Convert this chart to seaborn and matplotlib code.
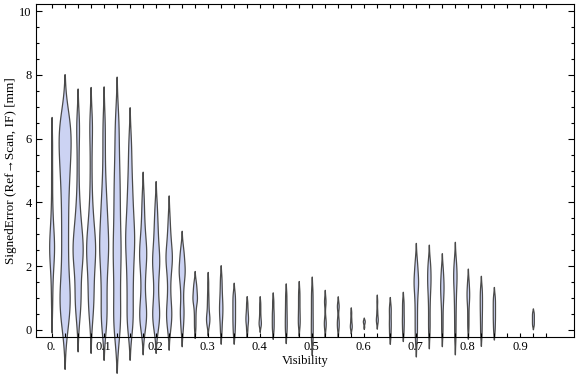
import matplotlib
matplotlib.use("Agg")
import matplotlib.pyplot as plt
import numpy as np
import pandas as pd
import seaborn as sns

# visibility bins (x positions of the violins)
visibility = [0.0, 0.025, 0.05, 0.075, 0.1, 0.125, 0.15, 0.175, 0.2, 0.225,
              0.25, 0.275, 0.3, 0.325, 0.35, 0.375, 0.4, 0.425, 0.45, 0.475,
              0.5, 0.525, 0.55, 0.575, 0.6, 0.625, 0.65, 0.675, 0.7, 0.725,
              0.75, 0.775, 0.8, 0.825, 0.85, 0.925]

errors = [
    [0.8, 1.5, 2.0, 2.2, 2.4, 2.55, 2.7, 2.85, 3.05, 3.35, 3.9, 4.8, 5.8],
    [0.0, 0.25, 0.5, 0.7, 0.9, 1.0, 1.1, 1.3, 1.55, 1.85, 2.2, 2.5, 2.8, 3.1,
     3.4, 3.7, 4.0, 4.3, 4.55, 4.8, 5.0, 5.2, 5.4, 5.6, 5.75, 5.9, 6.05, 6.2,
     6.35, 6.5, 6.65, 6.8],
    [0.3, 0.6, 0.85, 1.0, 1.1, 1.35, 1.65, 1.9, 2.1, 2.2, 2.25, 2.4, 2.5,
     2.6, 2.7, 2.8, 2.95, 3.1, 3.25, 3.45, 3.7, 4.0, 4.5, 5.2, 5.9, 6.4, 6.6],
    [0.3, 0.6, 0.9, 1.0, 1.2, 1.5, 1.75, 1.95, 2.15, 2.3, 2.45, 2.5, 2.6,
     2.75, 2.9, 3.05, 3.25, 3.5, 3.8, 4.3, 5.0, 5.8, 6.4, 6.6],
    [0.1, 0.25, 0.4, 0.7, 1.0, 1.3, 1.6, 1.85, 2.1, 2.3, 2.5, 2.6, 2.7, 2.9,
     3.1, 3.3, 3.5, 3.75, 4.0, 4.3, 4.7, 5.3, 6.0, 6.6],
    [-0.1, 0.1, 0.25, 0.6, 0.95, 1.3, 1.65, 2.0, 2.35, 2.5, 2.7, 3.05, 3.4,
     3.75, 4.1, 4.45, 4.8, 5.2, 5.7, 6.3, 6.7],
    [0.05, 0.2, 0.35, 0.65, 0.95, 1.25, 1.5, 1.75, 2.0, 2.25, 2.5, 2.6, 2.75,
     3.0, 3.1, 3.25, 3.5, 3.75, 4.0, 4.3, 4.6, 5.0, 5.5, 6.0],
    [0.0, 0.2, 0.4, 0.5, 0.6, 0.8, 1.05, 1.4, 1.7, 1.95, 2.15, 2.35, 2.45,
     2.55, 2.75, 3.0, 3.3, 3.7, 4.2],
    [0.0, 0.2, 0.4, 0.5, 0.6, 0.8, 1.05, 1.35, 1.6, 1.85, 2.05, 2.15, 2.25,
     2.45, 2.65, 2.9, 3.2, 3.5, 3.95],
    [0.05, 0.25, 0.45, 0.55, 0.7, 0.95, 1.3, 1.65, 1.9, 2.1, 2.25, 2.3, 2.4,
     2.6, 2.85, 3.1, 3.55],
    [0.0, 0.25, 0.5, 0.6, 0.8, 1.1, 1.35, 1.55, 1.7, 1.8, 1.9, 1.95, 2.1,
     2.3, 2.4, 2.6],
    [0.05, 0.3, 0.55, 0.75, 0.9, 0.95, 1.0, 1.1, 1.2, 1.3, 1.4, 1.55],
    [0.15, 0.25, 0.35, 0.4, 0.5, 0.7, 0.9, 1.15, 1.5],
    [-0.05, 0.25, 0.45, 0.6, 0.75, 0.9, 1.1, 1.35, 1.65],
    [-0.1, 0.15, 0.35, 0.55, 0.75, 0.95, 1.15],
    [0.0, 0.2, 0.3, 0.4, 0.5, 0.65, 0.85],
    [0.15, 0.2, 0.3, 0.45, 0.65, 0.85],
    [0.0, 0.2, 0.4, 0.6, 0.9],
    [-0.05, 0.2, 0.45, 0.75, 1.1],
    [0.15, 0.35, 0.6, 0.9, 1.2],
    [-0.3, 0.05, 0.4, 0.8, 1.2],
    [0.1, 0.2, 0.35, 0.85, 0.95],
    [0.05, 0.2, 0.35, 0.7, 0.8],
    [0.05, 0.12, 0.2, 0.35, 0.55],
    [0.1, 0.2, 0.25, 0.28, 0.32],
    [0.25, 0.32, 0.4, 0.6, 0.9],
    [-0.15, 0.1, 0.3, 0.55, 0.75],
    [-0.05, 0.2, 0.4, 0.65, 0.9],
    [-0.3, 0.0, 0.3, 0.6, 0.9, 1.15, 1.35, 1.5, 1.55, 1.75, 1.95, 2.2],
    [-0.05, 0.35, 0.8, 1.15, 1.4, 1.55, 1.75, 1.95, 2.15],
    [-0.05, 0.35, 0.75, 1.0, 1.2, 1.35, 1.5, 1.7, 1.95],
    [-0.2, 0.3, 0.75, 1.1, 1.4, 1.6, 1.75, 1.95, 2.2],
    [0.1, 0.45, 0.8, 1.0, 1.15, 1.3, 1.55],
    [-0.1, 0.25, 0.55, 0.8, 1.05, 1.3],
    [0.0, 0.25, 0.45, 0.65, 0.85, 1.05],
    [0.15, 0.25, 0.35, 0.45, 0.55],
]

x_ticks = [0.0, 0.1, 0.2, 0.3, 0.4, 0.5, 0.6, 0.7, 0.8, 0.9]
x_labels = ["0.", "0.1", "0.2", "0.3", "0.4", "0.5", "0.6", "0.7", "0.8", "0.9"]
y_ticks = [0, 2, 4, 6, 8, 10]

rows = [(pos, v) for pos, vals in zip(visibility, errors) for v in vals]
df = pd.DataFrame(rows, columns=["Visibility", "SignedError"])

serif = ["Liberation Serif", "DejaVu Serif"]
plt.rcParams["font.family"] = serif
plt.rcParams["font.size"] = 9

fig = plt.figure(figsize=(5.76, 3.77), dpi=100)
ax = fig.add_axes([36 / 576, 40 / 377, 538 / 576, 333 / 377])

# violin width scales with the number of observations in each bin
sns.violinplot(data=df, x="Visibility", y="SignedError", native_scale=True,
               orient="x", density_norm="count", cut=2, inner=None,
               bw_method="scott", bw_adjust=0.55, width=0.92, color="#ccd3f3",
               saturation=1, linewidth=0.9, linecolor="#4a4a4a", ax=ax)
for c in ax.collections:
    c.set_clip_on(False)

ax.set_xlim(-0.03, 1.004)
ax.set_ylim(-0.22, 10.22)
ax.set_xticks(x_ticks)
ax.set_xticklabels(x_labels)
ax.set_xticks(np.arange(0, 0.96, 0.025), minor=True)
ax.set_yticks(y_ticks)
ax.set_yticks(np.arange(0, 10.01, 0.5), minor=True)
ax.tick_params(axis="both", which="both", direction="in", top=True, right=True,
               width=0.8, colors="black", labelsize=9, pad=3)
ax.tick_params(axis="x", which="both", length=3)
ax.tick_params(axis="y", which="major", length=4)
ax.tick_params(axis="y", which="minor", length=2.4)
for s in ax.spines.values():
    s.set_linewidth(0.8)

ax.set_xlabel("Visibility", fontsize=9, labelpad=1)
ax.set_ylabel("SignedError (Ref\u2192Scan, IF) [mm]", fontsize=9.5, labelpad=2)

fig.savefig("out.png", dpi=100)
